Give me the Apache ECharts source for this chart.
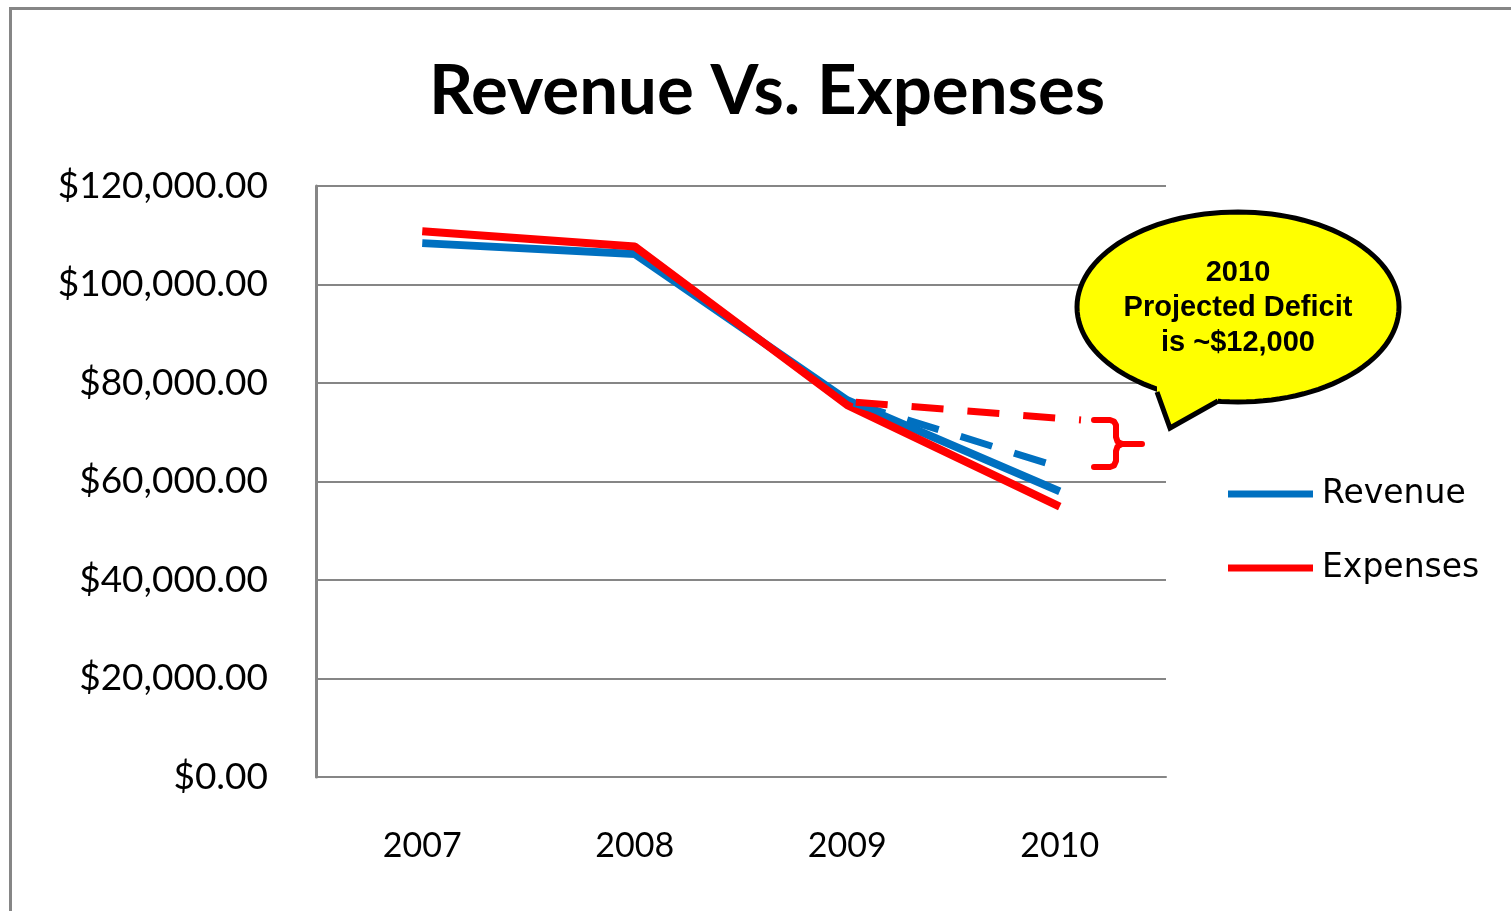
<!DOCTYPE html>
<html>
<head>
<meta charset="utf-8">
<script src="https://cdn.jsdelivr.net/npm/echarts@6/dist/echarts.min.js"></script>
<style>
  html, body { margin: 0; padding: 0; background: #fff; }
  #chart { width: 1511px; height: 911px; }
</style>
</head>
<body>
<div id="chart"></div>
<script>
var years = ['2007', '2008', '2009', '2010']
var revenue = [108400, 106200, 76500, 58000]
var expenses = [110800, 107700, 75500, 54900]
// projected trend from 2009 (x as category position on a hidden value axis)
var revenueTrend = [[2.03, 75900], [2.94, 63700]]
var expenseTrend = [[2.04, 76100], [3.1, 72500]]
var yTicks = { min: 0, max: 120000, interval: 20000 }

var myChart = echarts.init(document.getElementById('chart'))

function money(v) {
  var s = v.toFixed(2).split('.')
  return '$' + s[0].replace(/\B(?=(\d{3})+(?!\d))/g, ',') + '.' + s[1]
}

var gray = '#868686'

// bubble outline (ellipse as polygon)
var cx = 1238, cy = 307, rx = 161, ry = 95
var ellipsePts = []
for (var i = 0; i < 120; i++) {
  var a = i / 120 * Math.PI * 2
  ellipsePts.push([cx + rx * Math.cos(a), cy + ry * Math.sin(a)])
}

var option = {
  backgroundColor: '#fff',
  animation: false,
  title: {
    text: 'Revenue Vs. Expenses',
    left: 424,
    top: 52,
    textStyle: { fontFamily: 'Lato', fontWeight: 'bold', fontSize: 69, color: '#000' }
  },
  legend: {
    data: ['Revenue', 'Expenses'],
    orient: 'vertical',
    left: 1228,
    top: 474,
    padding: 0,
    itemWidth: 85,
    itemHeight: 7,
    itemGap: 34,
    icon: 'rect',
    textStyle: { fontFamily: 'DejaVu Sans', fontSize: 33, color: '#000', lineHeight: 40, padding: [0, 0, 0, 4] }
  },
  grid: { left: 316, right: 345, top: 186, bottom: 134 },
  xAxis: [
    {
      type: 'category',
      data: years,
      axisLine: { show: true, lineStyle: { color: gray, width: 2 } },
      axisTick: { show: false },
      axisLabel: { margin: 52, fontFamily: 'Lato', fontSize: 34, color: '#000' }
    },
    {
      type: 'value',
      min: -0.5,
      max: 3.5,
      show: false
    }
  ],
  yAxis: {
    type: 'value',
    min: yTicks.min,
    max: yTicks.max,
    interval: yTicks.interval,
    axisLine: { show: true, onZero: false, lineStyle: { color: gray, width: 3 } },
    axisTick: { show: false },
    splitLine: { lineStyle: { color: gray, width: 2 } },
    axisLabel: { formatter: money, margin: 48, fontFamily: 'Lato', fontSize: 37, color: '#000' }
  },
  series: [
    {
      name: 'Expenses',
      type: 'line',
      data: expenses,
      symbol: 'none',
      color: '#FF0000',
      lineStyle: { width: 8, color: '#FF0000' }
    },
    {
      name: 'Revenue',
      type: 'line',
      data: revenue,
      symbol: 'none',
      color: '#0070C0',
      z: 1,
      lineStyle: { width: 8, color: '#0070C0' }
    },
    {
      name: 'Revenue trend',
      type: 'line',
      xAxisIndex: 1,
      data: revenueTrend,
      symbol: 'none',
      z: 3,
      lineStyle: { width: 7, color: '#0070C0', type: [33, 23] }
    },
    {
      name: 'Expenses trend',
      type: 'line',
      xAxisIndex: 1,
      data: expenseTrend,
      symbol: 'none',
      z: 3,
      lineStyle: { width: 7, color: '#FF0000', type: [32, 24] }
    }
  ],
  graphic: [
    {
      // outer chart border
      type: 'rect',
      shape: { x: 10.5, y: 8.5, width: 1700, height: 1100 },
      style: { fill: 'none', stroke: gray, lineWidth: 3 },
      silent: true
    },
    {
      // brace, upper half
      type: 'polyline',
      z: 10,
      shape: { points: [[1094, 420], [1110, 420], [1114, 421.5], [1116, 425], [1116, 437], [1117.5, 441.5], [1122, 444], [1142, 444]] },
      style: { fill: 'none', stroke: '#FF0000', lineWidth: 6, lineCap: 'round', lineJoin: 'round' }
    },
    {
      // brace, lower half
      type: 'polyline',
      z: 10,
      shape: { points: [[1122, 444], [1117.5, 446.5], [1116, 451], [1116, 461], [1114, 465.5], [1110, 467], [1094, 467]] },
      style: { fill: 'none', stroke: '#FF0000', lineWidth: 6, lineCap: 'round', lineJoin: 'round' }
    },
    {
      type: 'polygon',
      z: 10,
      shape: { points: ellipsePts },
      style: { fill: '#FFFF00', stroke: '#000', lineWidth: 5 }
    },
    {
      type: 'polygon',
      z: 11,
      shape: { points: [[1157, 392], [1170, 428], [1218, 401], [1218, 392], [1157, 384]] },
      style: { fill: '#FFFF00' }
    },
    {
      type: 'polyline',
      z: 12,
      shape: { points: [[1157, 392], [1170, 428], [1218, 401]] },
      style: { fill: 'none', stroke: '#000', lineWidth: 5, lineJoin: 'miter' }
    },
    {
      type: 'text',
      z: 13,
      style: {
        x: 1238,
        y: 308,
        text: '2010\nProjected Deficit\nis ~$12,000',
        align: 'center',
        verticalAlign: 'middle',
        fontFamily: 'Liberation Sans',
        fontWeight: 'bold',
        fontSize: 29,
        lineHeight: 35,
        fill: '#000'
      }
    }
  ]
}

myChart.setOption(option)
</script>
</body>
</html>
